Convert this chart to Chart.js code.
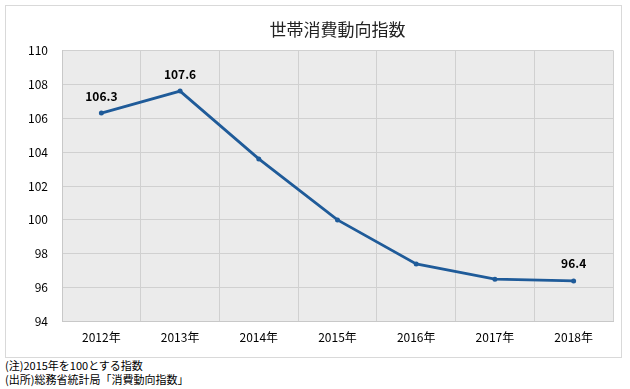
<!DOCTYPE html>
<html>
<head>
<meta charset="utf-8">
<script src="https://cdn.jsdelivr.net/npm/chart.js@4/dist/chart.umd.min.js"></script>
<style>
  body { margin: 0; background: #fff; width: 630px; height: 389px; overflow: hidden; }
  #box { position: absolute; left: 5px; top: 5px; width: 615px; height: 351px; border: 1px solid #d9d9d9; }
  #notes { position: absolute; left: 5px; top: 358px; font-family: "Noto Sans CJK JP", sans-serif; font-size: 11px; line-height: 14px; color: #000; }
</style>
</head>
<body>
<div id="box"><canvas id="mycanvas" width="615" height="351"></canvas></div>
<div id="notes">(注)2015年を100とする指数<br>(出所)総務省統計局「消費動向指数」</div>
<script>
var years = ["2012年", "2013年", "2014年", "2015年", "2016年", "2017年", "2018年"];
var index_values = [106.3, 107.6, 103.6, 100.0, 97.4, 96.5, 96.4];
var labeled = [0, 1, 6]; // only these points get a number

var lineColor = "#1f5b99";

// gray plot background + data labels
var bgPlugin = {
  id: "bg",
  beforeDraw: function(chart) {
    var a = chart.chartArea, ctx = chart.ctx;
    ctx.save();
    ctx.fillStyle = "#ebebeb";
    ctx.fillRect(a.left, a.top, a.right - a.left, a.bottom - a.top);
    ctx.restore();
  },
  afterDatasetsDraw: function(chart) {
    var ctx = chart.ctx;
    var meta = chart.getDatasetMeta(0);
    ctx.save();
    ctx.font = "bold 12px 'Noto Sans CJK JP', sans-serif";
    ctx.fillStyle = "#000";
    ctx.textAlign = "center";
    ctx.textBaseline = "middle";
    labeled.forEach(function(i) {
      var p = meta.data[i];
      ctx.fillText(index_values[i].toFixed(1), p.x, p.y - 17);
    });
    ctx.restore();
  }
};

var ctx = document.getElementById("mycanvas");
var chart = new Chart(ctx, {
  type: "line",
  data: {
    labels: years,
    datasets: [{
      label: "世帯消費動向指数",
      data: index_values,
      borderColor: lineColor,
      backgroundColor: lineColor,
      borderWidth: 2.8,
      pointRadius: 2.5,
      pointBackgroundColor: lineColor,
      pointBorderWidth: 0,
      tension: 0
    }]
  },
  options: {
    responsive: false,
    animation: false,
    layout: { padding: { top: 0, right: 8, bottom: 3, left: 0 } },
    plugins: {
      legend: { display: false },
      tooltip: { enabled: false },
      title: {
        display: true,
        fullSize: false,
        text: "世帯消費動向指数",
        color: "#222",
        font: { family: "'Noto Sans CJK JP', sans-serif", size: 17, weight: "normal" },
        padding: { top: 13, bottom: 11 }
      }
    },
    scales: {
      x: {
        offset: true,
        grid: { color: "#d0d0d0", drawTicks: false, offset: true },
        border: { color: "#c8c8c8" },
        ticks: { color: "#000", padding: 9, font: { family: "'Noto Sans CJK JP', sans-serif", size: 12 } }
      },
      y: {
        min: 94,
        max: 110,
        grid: { color: "#d0d0d0", drawTicks: false },
        border: { color: "#c8c8c8" },
        ticks: { stepSize: 2, color: "#000", padding: 14, font: { family: "'Noto Sans CJK JP', sans-serif", size: 12 } },
        afterFit: function(scale) { scale.width = 56; }
      }
    }
  },
  plugins: [bgPlugin]
});
</script>
</body>
</html>
